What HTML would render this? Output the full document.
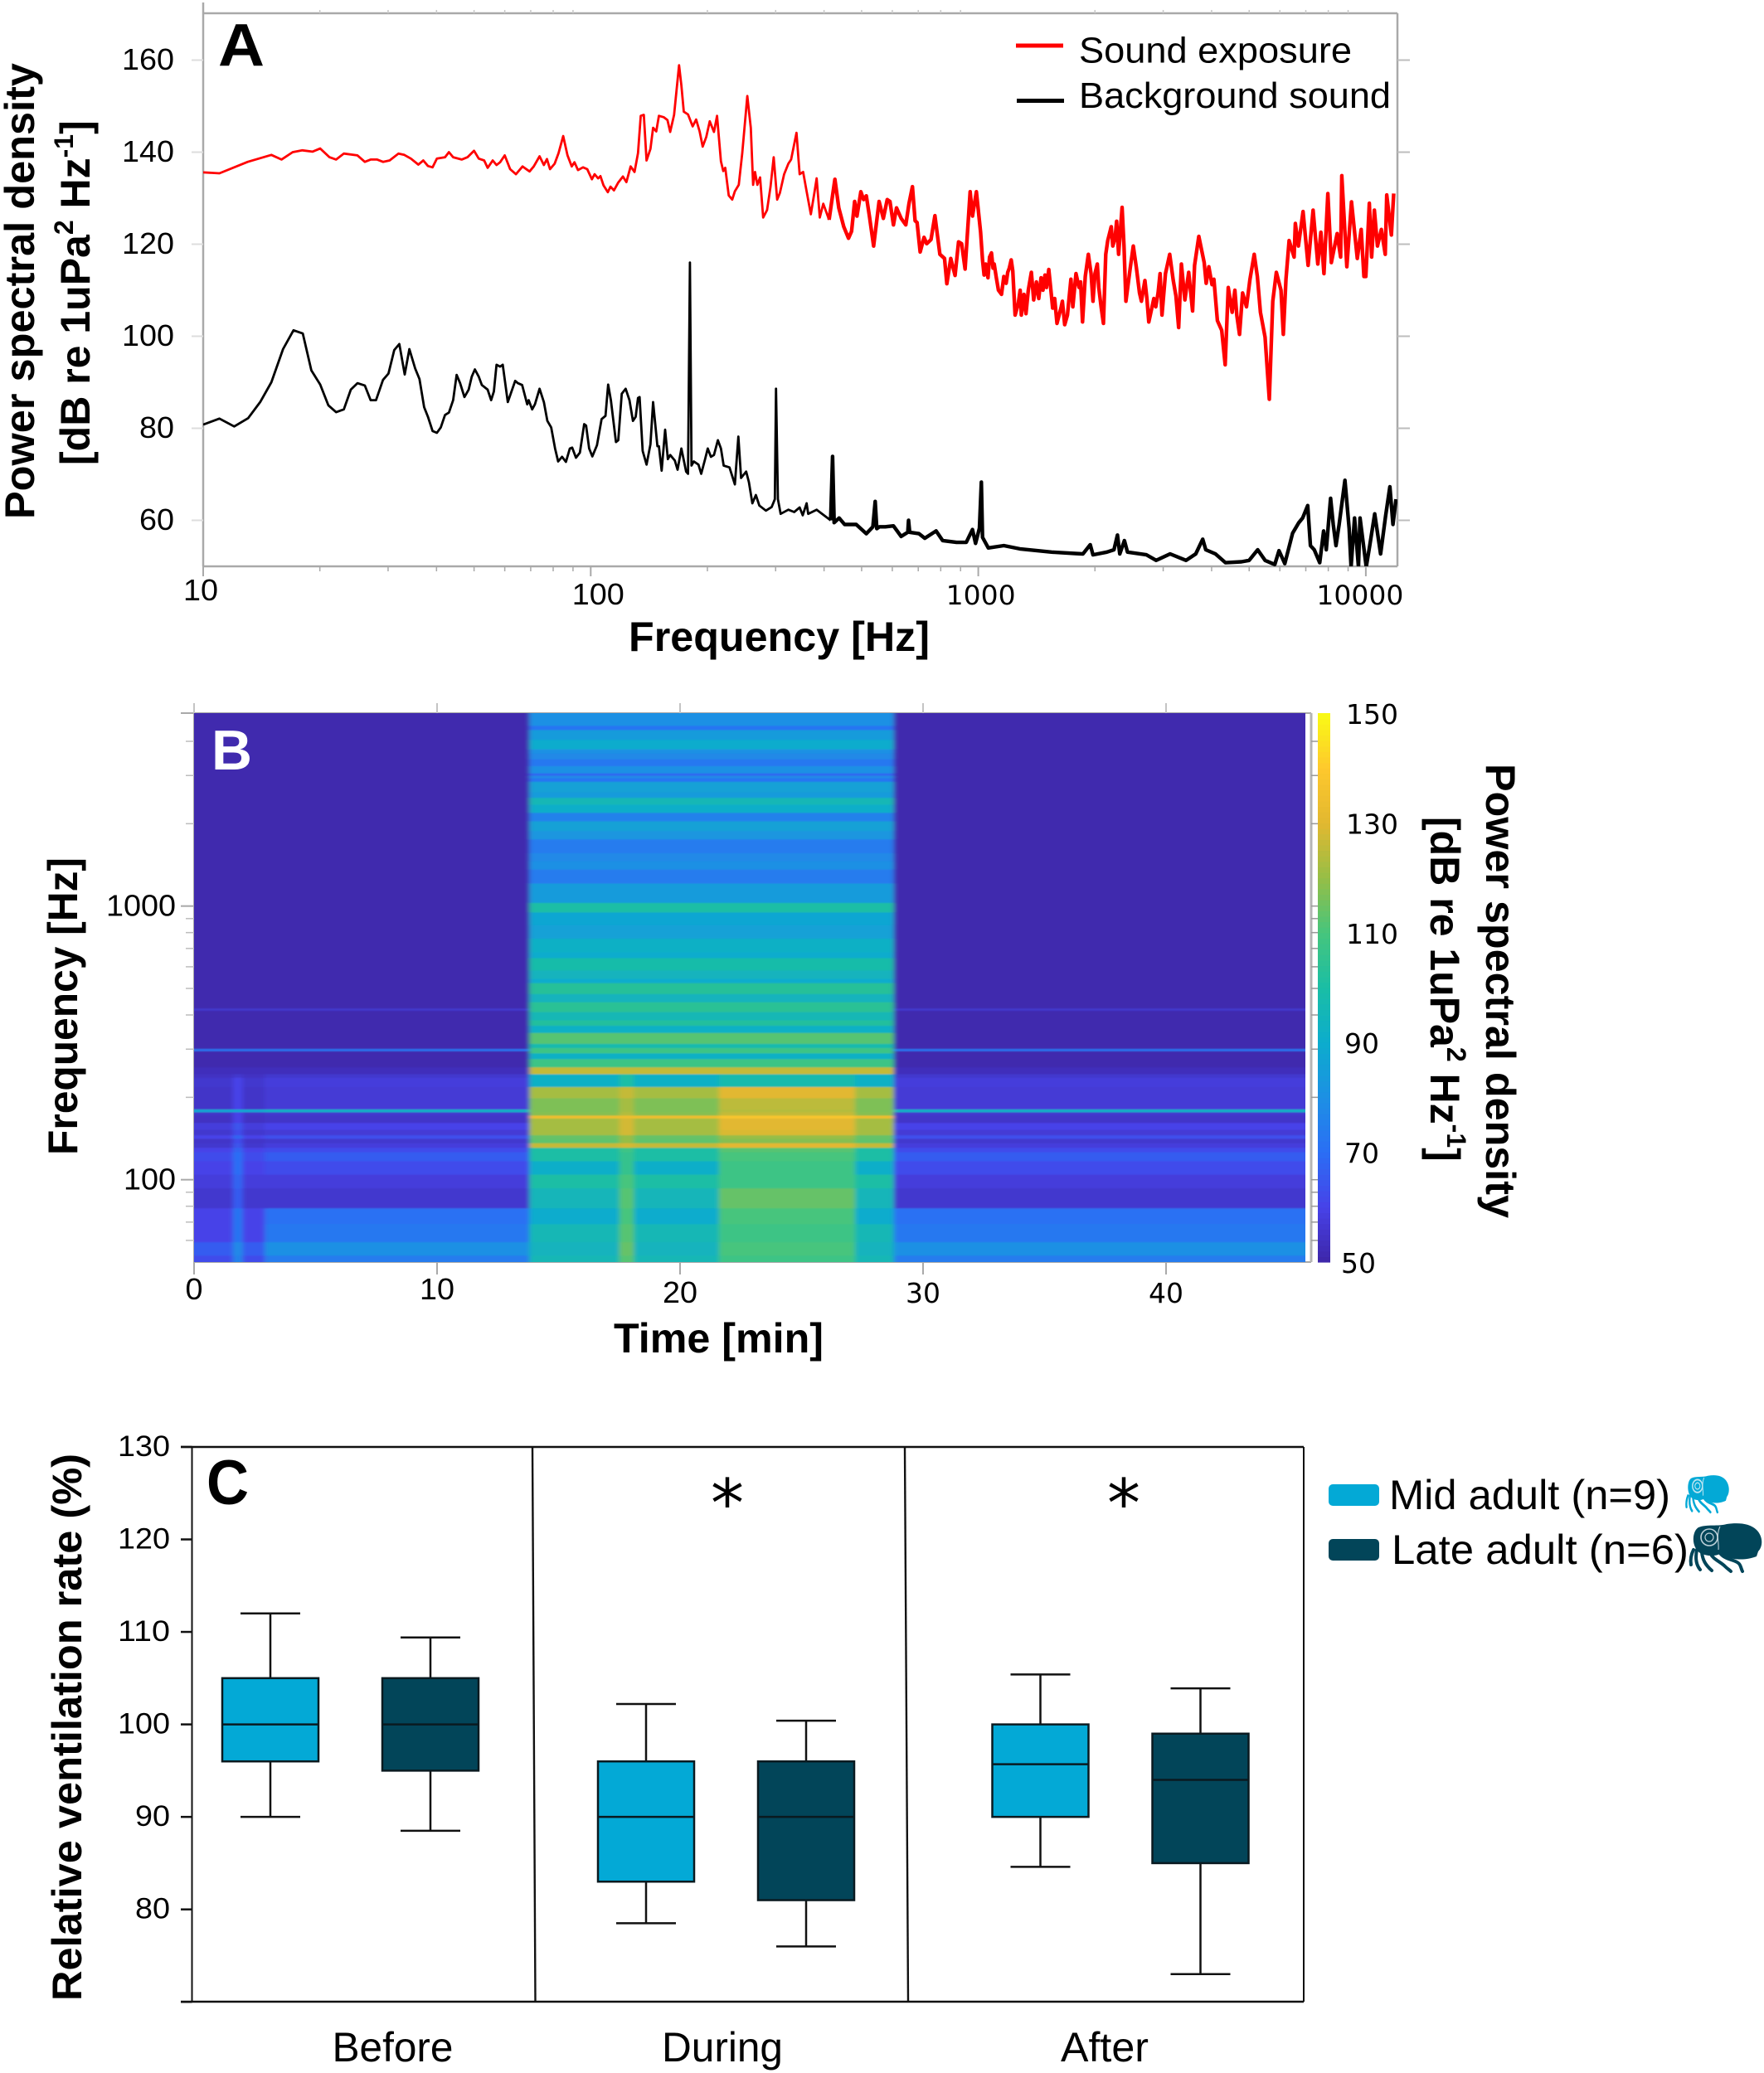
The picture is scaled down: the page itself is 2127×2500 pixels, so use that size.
<!DOCTYPE html>
<html lang="en">
<head>
<meta charset="utf-8">
<title>Sound exposure and ventilation rate</title>
<style>
html,body{margin:0;padding:0;background:#fff;}
svg{display:block;}
text{font-family:"Liberation Sans",sans-serif;fill:#000;}
.bold{font-weight:700;}
.dv{font-family:"DejaVu Sans",sans-serif;}
</style>
</head>
<body>
<svg id="fig" xmlns="http://www.w3.org/2000/svg" width="2127" height="2500" viewBox="0 0 2127 2500">
  <defs>
    <clipPath id="clipA"><rect x="245" y="16" width="1440" height="667"/></clipPath>
    <clipPath id="clipB"><rect x="234" y="860" width="1340" height="662"/></clipPath>
    <filter id="soft" filterUnits="userSpaceOnUse" x="200" y="830" width="1410" height="720"><feGaussianBlur stdDeviation="3 0.9"/></filter>
  </defs>

  <rect width="2127" height="2500" fill="#fff"/>

  <!-- Panel A -->
  <g id="panelA">
    <g id="axesA"></g>
    <g id="seriesA" clip-path="url(#clipA)"></g>
    <text class="bold" x="263" y="79" font-size="72" textLength="56" lengthAdjust="spacingAndGlyphs">A</text>
    <text class="bold" transform="translate(41,626) rotate(-90)" font-size="50" textLength="550" lengthAdjust="spacingAndGlyphs">Power spectral density</text>
    <text class="bold" transform="translate(108,561) rotate(-90)" font-size="50">[dB re 1uPa<tspan font-size="32" dy="-20">2</tspan><tspan dy="20"> Hz</tspan><tspan font-size="32" dy="-20">-1</tspan><tspan dy="20">]</tspan></text>
    <text class="bold" x="758" y="785" font-size="50" textLength="363" lengthAdjust="spacingAndGlyphs">Frequency [Hz]</text>
    <line x1="1225" y1="55" x2="1282" y2="55" stroke="#ff0000" stroke-width="5"/>
    <line x1="1226" y1="121.5" x2="1283" y2="121.5" stroke="#000" stroke-width="5"/>
    <text x="1301" y="75.5" font-size="44" textLength="329" lengthAdjust="spacingAndGlyphs">Sound exposure</text>
    <text x="1301" y="130" font-size="44" textLength="376" lengthAdjust="spacingAndGlyphs">Background sound</text>
  </g>

  <!-- Panel B -->
  <g id="panelB">
    <g id="axesB"></g>
    <rect x="234" y="860" width="1340" height="662" fill="#3e26a8"/>
    <g clip-path="url(#clipB)"><g id="heat" filter="url(#soft)"></g></g>
    <g id="colorbar"></g>
    <text class="bold" x="255" y="928" font-size="68" fill="#fff" style="fill:#fff" textLength="49" lengthAdjust="spacingAndGlyphs">B</text>
    <text class="bold" transform="translate(93,1393) rotate(-90)" font-size="50" textLength="359" lengthAdjust="spacingAndGlyphs">Frequency [Hz]</text>
    <text class="bold" x="740" y="1631" font-size="50" textLength="253" lengthAdjust="spacingAndGlyphs">Time [min]</text>
    <text class="bold" transform="translate(1792,921) rotate(90)" font-size="50" textLength="548" lengthAdjust="spacingAndGlyphs">Power spectral density</text>
    <text class="bold" transform="translate(1725,985) rotate(90)" font-size="50">[dB re 1uPa<tspan font-size="32" dy="-20">2</tspan><tspan dy="20"> Hz</tspan><tspan font-size="32" dy="-20">-1</tspan><tspan dy="20">]</tspan></text>
  </g>

  <!-- Panel C -->
  <g id="panelC">
    <g id="axesC"></g>
    <g id="boxes"></g>
    <line x1="218" y1="1745" x2="1572" y2="1745" stroke="#111" stroke-width="2.5"/>
    <line x1="218" y1="2414" x2="1572" y2="2414" stroke="#111" stroke-width="2.5"/>
    <line x1="231.5" y1="1745" x2="231.5" y2="2414" stroke="#111" stroke-width="2"/>
    <line x1="1572" y1="1745" x2="1572" y2="2414" stroke="#111" stroke-width="2"/>
    <line x1="642" y1="1745" x2="645.5" y2="2414" stroke="#111" stroke-width="2.4"/>
    <line x1="1091" y1="1745" x2="1095" y2="2414" stroke="#111" stroke-width="2.4"/>
    <text class="bold" x="249" y="1814" font-size="76" textLength="51" lengthAdjust="spacingAndGlyphs">C</text>
    <text class="bold" transform="translate(98,2413) rotate(-90)" font-size="50" textLength="660" lengthAdjust="spacingAndGlyphs">Relative ventilation rate (%)</text>
    <text class="dv" x="877" y="1841" font-size="80" text-anchor="middle">*</text>
    <text class="dv" x="1355" y="1841" font-size="80" text-anchor="middle">*</text>
    <rect x="1602" y="1790" width="61" height="26" rx="5" fill="#03a9d6"/>
    <rect x="1602" y="1856" width="61" height="26" rx="5" fill="#024559"/>
    <text x="1675" y="1820" font-size="50" textLength="339" lengthAdjust="spacingAndGlyphs">Mid adult (n=9)</text>
    <text x="1678" y="1886" font-size="50" textLength="358" lengthAdjust="spacingAndGlyphs">Late adult (n=6)</text>
    <g transform="translate(2033,1779) scale(0.6,0.77)">
      <path fill="#03a9d6" d="M10 5 C20 1 34 4 44 1 C58 -1 72 0 80 8 C88 16 88 28 82 34 L80 40 C70 44 60 44 53 43 C46 42 40 40 36 37 C30 40 20 40 12 36 C6 32 3 24 4 16 C5 10 7 7 10 5 Z"/>
      <path d="M36 36 C42 44 54 44 58 48 C61 50 61 54 63 58 M24 36 C28 44 36 46 42 52 C45 55 47 56 49 58 M14 35 C15 44 18 50 26 57 M8 32 C6 42 7 50 12 56 M4 32 C1 38 0 44 1 50" fill="none" stroke="#03a9d6" stroke-width="4" stroke-linecap="round"/>
      <circle cx="23" cy="17" r="10" fill="none" stroke="#bfe6f2" stroke-width="2.4"/>
      <circle cx="23" cy="17" r="5" fill="none" stroke="#bfe6f2" stroke-width="1.8"/>
      <path d="M36 4 C31 14 35 24 34 32" fill="none" stroke="#bfe6f2" stroke-width="1.6"/>
    </g>
    <g transform="translate(2038,1837)">
      <path fill="#024559" d="M10 5 C20 1 34 4 44 1 C58 -1 72 0 80 8 C88 16 88 28 82 34 L80 40 C70 44 60 44 53 43 C46 42 40 40 36 37 C30 40 20 40 12 36 C6 32 3 24 4 16 C5 10 7 7 10 5 Z"/>
      <path d="M36 36 C42 44 54 44 58 48 C61 50 61 54 63 58 M24 36 C28 44 36 46 42 52 C45 55 47 56 49 58 M14 35 C15 44 18 50 26 57 M8 32 C6 42 7 50 12 56 M4 32 C1 38 0 44 1 50" fill="none" stroke="#024559" stroke-width="4" stroke-linecap="round"/>
      <circle cx="23" cy="17" r="10" fill="none" stroke="#bcd0d8" stroke-width="1.6"/>
      <circle cx="23" cy="17" r="5" fill="none" stroke="#bcd0d8" stroke-width="1.2"/>
      <path d="M36 4 C31 14 35 24 34 32" fill="none" stroke="#bcd0d8" stroke-width="1.1"/>
    </g>
  </g>
</svg>
<script>
// ---------- Panel A data (log10 frequency in Hz, power spectral density in dB) ----------
const spectrumXTicks = [1, 2, 3, 4];
const spectrumXLabels = ['10', '100', '1000', '10000'];
const spectrumYTicks = [60, 80, 100, 120, 140, 160];
const exposureLogHz = [1.000,1.042,1.115,1.176,1.202,1.231,1.256,1.282,1.302,1.326,1.343,1.363,1.398,1.417,1.432,1.449,1.464,1.481,1.504,1.519,1.536,1.555,1.568,1.580,1.592,1.603,1.624,1.634,1.645,1.667,1.682,1.699,1.711,1.725,1.734,1.747,1.757,1.766,1.778,1.792,1.807,1.824,1.842,1.853,1.868,1.879,1.887,1.895,1.907,1.917,1.929,1.940,1.951,1.958,1.967,1.980,1.991,2.003,2.010,2.019,2.025,2.033,2.044,2.051,2.060,2.071,2.083,2.092,2.103,2.113,2.122,2.129,2.137,2.144,2.154,2.161,2.169,2.176,2.188,2.198,2.205,2.215,2.228,2.234,2.240,2.251,2.263,2.272,2.281,2.289,2.298,2.307,2.318,2.326,2.336,2.342,2.347,2.356,2.365,2.372,2.382,2.391,2.404,2.413,2.419,2.424,2.430,2.437,2.445,2.455,2.464,2.472,2.481,2.488,2.499,2.510,2.517,2.531,2.539,2.548,2.557,2.568,2.577,2.583,2.591,2.600,2.615,2.630,2.640,2.653,2.665,2.673,2.681,2.687,2.697,2.704,2.711,2.719,2.730,2.744,2.755,2.765,2.772,2.781,2.789,2.801,2.813,2.821,2.830,2.837,2.842,2.850,2.860,2.867,2.878,2.888,2.901,2.913,2.919,2.929,2.940,2.949,2.957,2.966,2.979,2.985,2.995,3.006,3.011,3.015,3.019,3.025,3.029,3.034,3.038,3.041,3.046,3.052,3.060,3.066,3.072,3.076,3.080,3.085,3.089,3.095,3.103,3.108,3.111,3.118,3.123,3.129,3.137,3.143,3.150,3.156,3.162,3.167,3.172,3.176,3.182,3.186,3.192,3.197,3.203,3.214,3.217,3.223,3.230,3.239,3.244,3.252,3.260,3.264,3.269,3.276,3.284,3.291,3.296,3.301,3.307,3.311,3.317,3.323,3.329,3.334,3.343,3.347,3.353,3.357,3.362,3.371,3.376,3.381,3.392,3.400,3.408,3.416,3.421,3.430,3.435,3.440,3.453,3.458,3.464,3.469,3.474,3.483,3.494,3.503,3.510,3.517,3.524,3.533,3.543,3.553,3.558,3.569,3.583,3.588,3.595,3.603,3.608,3.617,3.628,3.637,3.645,3.655,3.662,3.667,3.674,3.682,3.692,3.701,3.712,3.720,3.728,3.740,3.751,3.760,3.769,3.781,3.787,3.794,3.802,3.815,3.818,3.826,3.838,3.851,3.864,3.876,3.884,3.892,3.902,3.911,3.926,3.935,3.938,3.951,3.963,3.978,3.988,3.995,4.000,4.009,4.015,4.022,4.030,4.040,4.050,4.054,4.066,4.072,4.077];
const exposureDb = [135.6,135.4,137.9,139.4,138.4,140.0,140.4,140.1,140.8,138.9,138.4,139.7,139.3,137.9,138.4,138.4,137.9,138.2,139.7,139.4,138.6,137.3,138.2,137.0,136.7,138.6,138.9,140.0,138.9,138.4,138.9,140.3,138.6,138.2,136.6,138.2,137.2,137.8,139.3,136.3,135.2,136.9,135.8,136.9,139.1,137.2,138.5,136.3,137.5,139.8,143.5,139.3,136.9,137.8,136.1,136.7,136.3,134.1,135.2,134.3,134.8,132.8,131.3,132.5,131.7,133.4,134.7,133.5,136.9,135.7,139.8,147.9,148.1,138.2,140.7,145.3,144.5,147.9,147.6,147.0,144.4,148.1,158.9,154.5,148.8,148.2,145.6,147.1,144.5,141.2,143.3,146.7,144.4,147.9,138.0,135.9,136.6,130.6,129.7,131.5,132.9,139.8,152.2,145.3,132.9,135.7,132.9,134.5,125.8,127.4,132.5,138.9,129.7,131.1,135.2,137.5,138.4,144.2,135.2,135.7,131.5,126.5,131.1,134.3,125.8,128.8,125.3,134.1,127.9,123.8,121.3,122.8,129.3,126.1,131.4,129.7,130.5,126.1,119.6,129.3,125.6,129.7,129.3,124.2,127.9,125.6,124.2,128.8,132.5,125.1,124.7,118.3,121.5,120.1,121.0,126.2,117.8,116.9,111.4,116.9,113.2,120.5,120.1,114.6,131.4,126.1,131.4,122.6,116.6,113.3,115.7,112.7,117.2,118.1,114.8,115.7,113.0,110.0,109.1,113.0,111.5,113.9,114.8,116.6,114.2,104.6,107.0,110.0,104.6,109.1,104.9,110.0,113.9,107.9,111.8,108.2,112.7,110.0,113.3,110.6,114.5,111.2,106.1,108.2,102.8,106.4,107.6,102.5,104.6,112.4,106.4,113.6,110.6,111.8,103.1,113.0,117.8,113.6,107.6,113.6,115.7,110.6,106.4,102.8,117.8,120.8,123.8,119.6,121.4,125.0,117.8,128.0,119.6,107.6,114.8,119.6,114.8,109.4,107.6,112.1,108.2,103.1,108.2,106.4,109.4,113.6,104.6,113.6,117.8,112.1,108.8,101.9,115.7,107.9,113.9,105.5,115.4,121.7,116.0,111.5,115.1,111.2,112.4,103.4,101.3,93.8,110.6,105.2,110.0,104.6,100.4,109.4,106.4,112.4,117.8,113.0,105.2,99.8,86.3,107.6,113.9,110.0,100.4,112.4,120.8,117.2,124.5,119.6,127.1,115.4,127.4,115.7,122.6,113.6,131.0,116.0,122.3,117.2,134.9,115.1,129.2,116.9,123.2,113.0,113.0,128.9,117.2,127.4,119.6,123.2,117.8,130.7,122.0,131.0];
const backgroundLogHz = [1.000,1.042,1.080,1.116,1.147,1.176,1.206,1.233,1.257,1.279,1.302,1.323,1.343,1.363,1.381,1.398,1.417,1.432,1.446,1.464,1.478,1.493,1.506,1.520,1.532,1.547,1.558,1.570,1.580,1.592,1.603,1.613,1.624,1.634,1.645,1.654,1.663,1.674,1.685,1.693,1.701,1.711,1.719,1.734,1.743,1.750,1.757,1.766,1.773,1.786,1.805,1.812,1.823,1.836,1.840,1.849,1.856,1.868,1.879,1.888,1.898,1.908,1.916,1.926,1.936,1.946,1.952,1.962,1.972,1.983,1.988,1.996,2.004,2.016,2.028,2.038,2.045,2.052,2.065,2.071,2.080,2.090,2.100,2.109,2.116,2.122,2.126,2.134,2.144,2.154,2.161,2.172,2.176,2.183,2.192,2.199,2.205,2.217,2.224,2.234,2.246,2.251,2.256,2.260,2.266,2.278,2.285,2.295,2.302,2.310,2.318,2.328,2.336,2.343,2.358,2.372,2.381,2.388,2.401,2.408,2.417,2.426,2.435,2.452,2.467,2.475,2.478,2.483,2.490,2.510,2.525,2.539,2.547,2.557,2.561,2.583,2.597,2.619,2.624,2.628,2.641,2.655,2.685,2.711,2.728,2.734,2.738,2.745,2.760,2.781,2.801,2.818,2.820,2.823,2.847,2.862,2.891,2.908,2.944,2.969,2.985,2.993,3.003,3.008,3.011,3.026,3.066,3.107,3.189,3.250,3.270,3.289,3.296,3.332,3.350,3.359,3.365,3.377,3.385,3.434,3.459,3.495,3.536,3.561,3.579,3.587,3.612,3.638,3.679,3.699,3.721,3.740,3.765,3.776,3.791,3.811,3.827,3.837,3.850,3.857,3.867,3.881,3.891,3.898,3.909,3.916,3.923,3.931,3.946,3.957,3.962,3.971,3.981,3.985,4.001,4.010,4.023,4.038,4.051,4.062,4.070,4.078];
const backgroundDb = [80.8,82.1,80.4,82.2,85.7,90.0,97.2,101.3,100.6,92.6,89.5,85.0,83.5,84.1,88.4,89.8,89.3,86.1,86.1,90.5,91.9,97.0,98.3,91.7,97.2,93.0,90.7,84.6,82.5,79.4,79.0,80.2,82.9,83.4,86.1,91.6,89.8,86.8,88.4,91.2,92.8,91.2,89.4,88.4,86.1,88.0,93.8,93.4,93.8,85.7,90.3,89.8,89.4,85.2,86.1,84.1,85.2,88.6,85.7,81.6,80.2,75.6,72.8,73.8,72.7,75.6,75.8,73.6,74.7,80.9,80.6,75.6,73.9,76.3,82.0,82.7,89.5,86.1,77.0,77.4,87.5,88.6,86.1,81.6,82.5,86.6,86.8,75.1,72.1,76.5,85.7,76.1,76.1,70.8,79.7,73.3,74.2,73.0,71.0,75.6,70.6,70.1,116.0,71.9,72.8,72.1,70.1,73.3,75.6,73.8,74.2,77.4,75.6,71.9,71.5,67.8,78.2,69.2,70.6,68.3,63.7,65.5,63.2,62.1,62.9,64.6,88.6,64.6,61.4,62.3,61.8,62.8,61.1,63.7,61.4,62.3,61.4,60.0,73.9,59.5,60.5,59.1,59.1,57.1,58.6,64.1,58.2,58.6,58.6,58.8,56.5,57.4,60.0,57.4,57.1,56.1,57.7,55.6,55.2,55.2,58.0,55.0,58.3,68.3,56.3,54.0,54.5,53.8,53.1,52.8,52.7,54.7,52.5,53.1,53.6,56.8,52.7,55.6,53.1,52.5,51.3,52.7,51.3,52.7,55.9,53.6,52.7,50.8,51.0,51.3,53.6,51.3,50.4,53.4,50.6,57.2,59.5,60.5,63.2,54.5,53.6,50.8,57.7,53.6,64.8,59.1,54.5,59.1,68.7,58.2,49.9,60.5,49.9,60.5,49.9,54.5,61.4,52.7,60.9,67.3,59.1,64.6];

// ---------- Panel B data (time in min, log10 frequency in Hz, dB) ----------
const timeTicks = [0, 10, 20, 30, 40];
const freqTickLogHz = [2, 3];
const freqTickLabels = ['100', '1000'];
const freqMinorHz = [60, 70, 80, 90, 200, 300, 400, 500, 600, 700, 800, 900, 2000, 3000, 4000];
const colorbarTicks = [50, 70, 90, 110, 130, 150];
const timeEdges = [0, 1.6, 2.0, 2.9, 13.8, 17.5, 18.1, 21.6, 27.2, 28.8, 45.7];
const segmentProfile = ['early', 'earlySpike', 'early', 'quiet', 'during', 'spike', 'during', 'loud', 'during', 'quiet'];
const bandEdgesLogHz = [1.698,1.724,1.773,1.839,1.897,1.970,2.020,2.069,2.102,2.118,2.135,2.151,2.164,2.184,2.209,2.225,2.236,2.248,2.258,2.299,2.340,2.374,2.387,2.412,2.442,2.463,2.471,2.479,2.483,2.498,2.538,2.564,2.584,2.614,2.619,2.627,2.650,2.680,2.720,2.735,2.766,2.811,2.832,2.882,2.932,2.978,3.013,3.084,3.135,3.165,3.195,3.245,3.276,3.311,3.342,3.372,3.397,3.417,3.456,3.468,3.478,3.486,3.513,3.538,3.559,3.574,3.609,3.645,3.660,3.705];
const upperQuietDb = [53,51,51,51,72,51,51,51,51,51,51,51,56,51,51,51,51,51,51,51,51,51,51,51,51,51,51,51,51,51,51,51,51,51,51,51,51,51,51,51,51,51,51,51,51,51,51];
const upperSoundDb = [126,108,92,108,108,108,98,112,92,102,96,104,104,104,94,103,90,94,99,90,92,86,88,100,84,74,80,78,74,82,86,76,91,96,84,86,72,78,68,80,73,78,80,90,84,72,80];
const quietDb = [74,80,73,71,56,58,62,66,62,58,56,63,57,60,55,55,56,92,57,57,58,56].concat(upperQuietDb);
const earlyDb = [62,66,60,60,56,58,60,62,60,56,55,60,56,58,54,54,55,88,55,55,56,54].concat(upperQuietDb);
const earlySpikeDb = [76,78,72,72,66,68,70,70,68,64,62,68,62,64,60,60,60,88,60,60,60,56].concat(upperQuietDb);
const duringDb = [96,94,96,90,95,100,91,100,100,126,113,114,122,122,122,134,118,117,117,122,92,92].concat(upperSoundDb);
const spikeDb = [112,114,112,110,112,110,106,106,108,128,120,120,128,128,128,134,124,122,122,126,100,100].concat(upperSoundDb);
const loudDb = [108,110,108,110,114,108,108,110,112,130,118,120,129,130,130,138,126,124,125,130,98,98].concat(upperSoundDb);
const profiles = {quiet: quietDb, early: earlyDb, earlySpike: earlySpikeDb, during: duringDb, spike: spikeDb, loud: loudDb};
const colormap = [[62,38,168],[71,66,232],[43,110,245],[29,144,228],[12,172,205],[26,190,165],[70,197,125],[150,190,70],[226,184,48],[254,200,45],[249,251,21]];

// ---------- Panel C data (relative ventilation rate, %) ----------
const phases = ['Before', 'During', 'After'];
const ageGroups = ['mid-adult', 'late-adult'];
const ventilationTicks = [70, 80, 90, 100, 110, 120, 130];
const whiskerHigh = [[112, 109.4], [102.2, 100.4], [105.4, 103.9]];
const quartile3 = [[105, 105], [96, 96], [100, 99]];
const medians = [[100, 100], [90, 90], [95.7, 94]];
const quartile1 = [[96, 95], [83, 81], [90, 85]];
const whiskerLow = [[90, 88.5], [78.5, 76], [84.6, 73]];

// ---------- Axis functions ----------
function xA(logHz) { return 245 + (logHz - 1) * 467.3; }
function yA(db) { return 627.5 - (db - 60) * 5.55; }
function xB(min) { return 234 + min * 29.3; }
function yB(logHz) { return 1422.7 - (logHz - 2) * 330; }
function yBar(db) { return 1522 - (db - 50) * 6.62; }
function yC(pct) { return 2079.6 - (pct - 100) * 11.155; }
function xC(phase, group) {
  const phaseCentres = [422.5, 875.5, 1351];
  return phaseCentres[phase] + (group - 0.5) * 193;
}
function heatColor(db) {
  const t = Math.max(0, Math.min(0.9999, (db - 50) / 100)) * (colormap.length - 1);
  const i = Math.floor(t), f = t - i;
  const a = colormap[i], b = colormap[i + 1];
  return 'rgb(' + [0, 1, 2].map(function (k) { return Math.round(a[k] + (b[k] - a[k]) * f); }).join(',') + ')';
}

// ---------- Drawing helpers ----------
const NS = 'http://www.w3.org/2000/svg';
function make(tag, parent, name, attrs) {
  const el = document.createElementNS(NS, tag);
  
  
  Object.keys(attrs).forEach(function (k) { el.setAttribute(k, attrs[k]); });
  parent.appendChild(el);
  return el;
}
function seg(parent, name, x1, y1, x2, y2, color, w) {
  return make('line', parent, name, {x1: x1, y1: y1, x2: x2, y2: y2, stroke: color, 'stroke-width': w});
}
function label(parent, name, str, x, y, anchor, size, wide) {
  const el = make('text', parent, name, {x: x, y: y, 'text-anchor': anchor, 'font-size': size, textLength: str.length * 21, lengthAdjust: 'spacingAndGlyphs'});
  if (wide) el.setAttribute('class', 'dv');
  el.textContent = str;
  return el;
}

// ---------- Panel A ----------
const axesA = document.getElementById('axesA');
const seriesA = document.getElementById('seriesA');
const GREY = '#a9a9a9';
seg(axesA, 'spectrum-y-axis', 245, 3, 245, 683, GREY, 2.5);
seg(axesA, 'spectrum-x-axis', 245, 683, 1685, 683, GREY, 2.5);
seg(axesA, 'spectrum-top-border', 245, 16, 1685, 16, GREY, 2.5);
seg(axesA, 'spectrum-right-border', 1685, 16, 1685, 683, GREY, 2.5);
spectrumYTicks.forEach(function (v) {
  seg(axesA, 'spectrum-y-tick', 231, yA(v), 245, yA(v), '#dddddd', 2);
  seg(axesA, 'spectrum-right-tick', 1685, yA(v), 1700, yA(v), '#bdbdbd', 2);
  label(axesA, 'spectrum-y-tick-label', String(v), 210, yA(v) + 11.5, 'end', 36, false);
});
spectrumXTicks.forEach(function (v, i) {
  seg(axesA, 'spectrum-x-tick', xA(v), 683, xA(v), 695, GREY, 2);
  const nudge = v === 1 ? -3 : (v === 2 ? 9 : (v === 3 ? 3 : -7));
  label(axesA, 'spectrum-x-tick-label', spectrumXLabels[i], xA(v) + nudge, v === 1 ? 724 : 729, 'middle', v >= 3 ? 32 : 36, v >= 3);
  for (let m = 2; m <= 9; m++) {
    const lx = xA(v + Math.log10(m));
    if (lx < 1685) {
      seg(axesA, 'spectrum-x-minor-tick', lx, 683, lx, 689, GREY, 1.5);
      seg(axesA, 'spectrum-top-minor-tick', lx, 12, lx, 16, '#c8c8c8', 1.5);
    }
  }
});
function drawSpectrum(xs, ys, color, name, highWidth) {
  const splitAt = xs.findIndex(function (v) { return v > 2.6; });
  const pts = xs.map(function (x, i) { return xA(x).toFixed(1) + ',' + yA(ys[i]).toFixed(1); });
  make('polyline', seriesA, name + '-low-frequency', {points: pts.slice(0, splitAt + 1).join(' '), fill: 'none', stroke: color, 'stroke-width': 2.8, 'stroke-linejoin': 'round'});
  make('polyline', seriesA, name + '-high-frequency', {points: pts.slice(splitAt).join(' '), fill: 'none', stroke: color, 'stroke-width': highWidth, 'stroke-linejoin': 'round'});
}
drawSpectrum(exposureLogHz, exposureDb, '#ff0000', 'sound-exposure-line', 4.4);
drawSpectrum(backgroundLogHz, backgroundDb, '#000000', 'background-sound-line', 4.4);

// ---------- Panel B ----------
const axesB = document.getElementById('axesB');
const heat = document.getElementById('heat');
const bar = document.getElementById('colorbar');
seg(axesB, 'spectrogram-y-axis', 234, 848, 234, 1522, GREY, 2);
seg(axesB, 'spectrogram-x-axis', 234, 1522, 1581, 1522, GREY, 2);
seg(axesB, 'spectrogram-top-border', 218, 860, 1581, 860, GREY, 2);
seg(axesB, 'spectrogram-right-axis', 1581, 860, 1581, 1522, '#b5b5b5', 3);
timeTicks.forEach(function (v) {
  seg(axesB, 'time-tick', xB(v), 1522, xB(v), 1537, GREY, 2);
  seg(axesB, 'time-top-tick', xB(v), 848, xB(v), 860, '#c4c4c4', 2);
  label(axesB, 'time-tick-label', String(v), xB(v), v < 20 ? 1567 : 1571, 'middle', v >= 30 ? 33 : 36, v >= 30);
});
freqTickLogHz.forEach(function (v, i) {
  seg(axesB, 'frequency-tick', 218, yB(v), 234, yB(v), GREY, 2);
  seg(axesB, 'frequency-right-tick', 1581, yB(v), 1589, yB(v), '#999999', 1.5);
  label(axesB, 'frequency-tick-label', freqTickLabels[i], 212, yB(v) + 12, 'end', 36, false);
});
freqMinorHz.forEach(function (hz) {
  const y = yB(Math.log10(hz));
  seg(axesB, 'frequency-minor-tick', 224, y, 234, y, '#bdbdbd', 1.5);
  seg(axesB, 'frequency-right-minor-tick', 1581, y, 1589, y, '#999999', 1.5);
});
segmentProfile.forEach(function (profileName, s) {
  const row = profiles[profileName];
  row.forEach(function (db, b) {
    const x0 = xB(timeEdges[s]) - (s === 0 ? 10 : 0);
    const x1 = xB(timeEdges[s + 1]) + (s === segmentProfile.length - 1 ? 10 : 0.5);
    const y0 = yB(bandEdgesLogHz[b + 1]) - (b === row.length - 1 ? 10 : 0);
    const y1 = yB(bandEdgesLogHz[b]) + (b === 0 ? 10 : 0.5);
    make('rect', heat, 'heat-cell', {x: x0.toFixed(1), y: y0.toFixed(1), width: (x1 - x0).toFixed(1), height: (y1 - y0).toFixed(1), fill: heatColor(db)});
  });
});
for (let v = 50; v < 150; v++) {
  make('rect', bar, 'colorbar-step', {x: 1589, y: yBar(v + 1).toFixed(1), width: 15, height: 7.2, fill: heatColor(v + 0.5)});
}
colorbarTicks.forEach(function (v) {
  const by = Math.max(873, Math.min(1535, yBar(v) + 13));
  const lx = v >= 110 ? 1623 : (v === 50 ? 1617 : 1621);
  label(bar, 'colorbar-tick-label', String(v), lx, by, 'start', 33, true);
});

// ---------- Panel C ----------
const axesC = document.getElementById('axesC');
const boxes = document.getElementById('boxes');
ventilationTicks.forEach(function (v) {
  seg(axesC, 'ventilation-y-tick', 218, yC(v), 231.5, yC(v), '#111', 2.5);
  if (v > 70) label(axesC, 'ventilation-y-tick-label', String(v), 205, yC(v) + 11, 'end', 35, false);
});
phases.forEach(function (phase, p) {
  const t = make('text', axesC, 'phase-label-' + phase.toLowerCase(), {x: p === 0 ? 473.5 : (p === 1 ? 871 : 1332), y: 2486, 'text-anchor': 'middle', 'font-size': 50, textLength: phase === 'After' ? 106 : 146, lengthAdjust: 'spacingAndGlyphs'});
  t.textContent = phase;
  ageGroups.forEach(function (group, g) {
    const name = phase.toLowerCase() + '-' + group;
    const cx = xC(p, g);
    const fill = g === 0 ? '#03a9d6' : '#024559';
    seg(boxes, name + '-whisker', cx, yC(whiskerHigh[p][g]), cx, yC(whiskerLow[p][g]), '#111', 2.5);
    seg(boxes, name + '-whisker-cap-high', cx - 36, yC(whiskerHigh[p][g]), cx + 36, yC(whiskerHigh[p][g]), '#111', 2.5);
    seg(boxes, name + '-whisker-cap-low', cx - 36, yC(whiskerLow[p][g]), cx + 36, yC(whiskerLow[p][g]), '#111', 2.5);
    make('rect', boxes, name + '-box', {x: cx - 58, y: yC(quartile3[p][g]), width: 116, height: yC(quartile1[p][g]) - yC(quartile3[p][g]), fill: fill, stroke: '#0a1a20', 'stroke-width': 2.5});
    seg(boxes, name + '-median', cx - 58, yC(medians[p][g]), cx + 58, yC(medians[p][g]), '#0a1a20', 2.5);
  });
});
</script>
</body>
</html>
